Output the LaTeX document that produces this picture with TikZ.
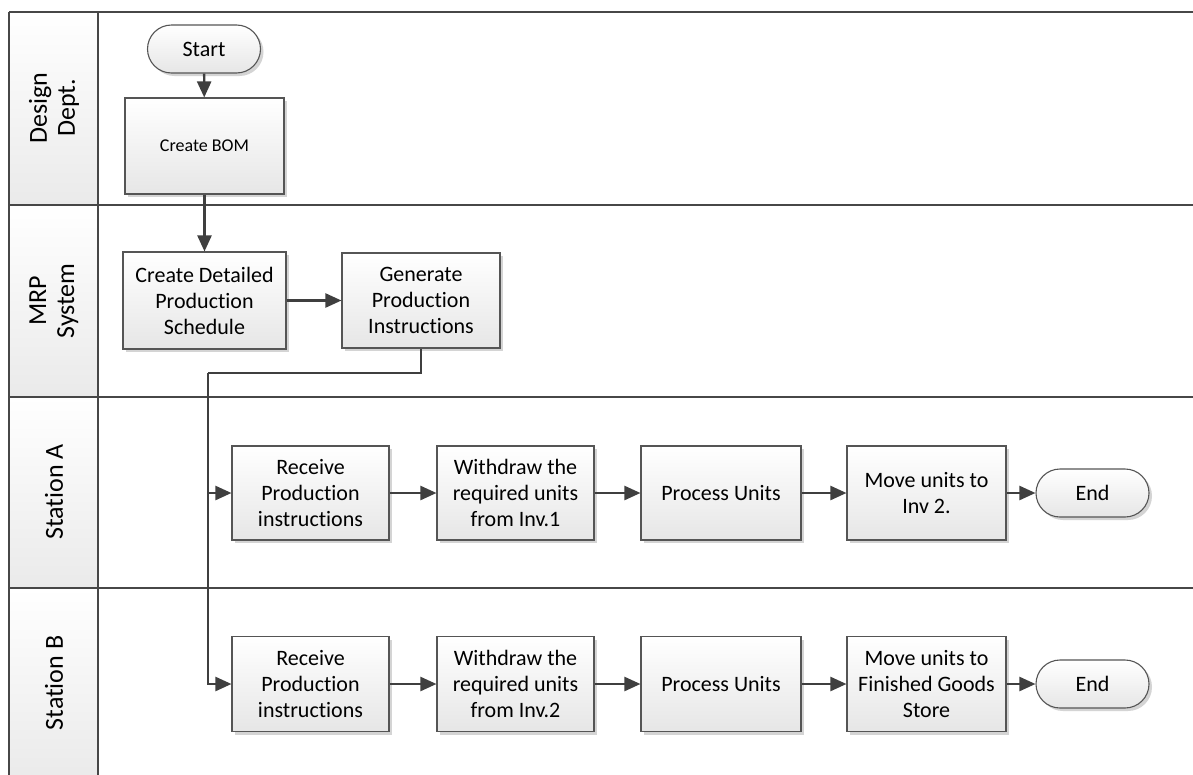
\documentclass[tikz,border=0pt]{standalone}
\usepackage{fontspec}
\setmainfont{Carlito}[Ligatures={NoCommon}]
\usetikzlibrary{arrows.meta,shadows,shapes.misc}

\definecolor{laneline}{HTML}{474747}
\definecolor{boxline}{HTML}{555555}
\definecolor{flow}{HTML}{3F3F3F}
\definecolor{shadowgray}{HTML}{D4D4D4}
\definecolor{fillbot}{HTML}{E6E6E6}
\definecolor{headbot}{HTML}{EAEAEA}

\tikzset{
  shapebase/.style={draw=boxline, line width=1.1pt, top color=white, bottom color=fillbot,
    align=center, text=black, inner sep=2pt,
    drop shadow={shadow xshift=3pt, shadow yshift=-3pt, fill=shadowgray, opacity=1}},
  procbox/.style={shapebase, rectangle, minimum width=157pt, minimum height=94pt,
    font=\fontsize{22}{26}\selectfont},
  termbox/.style={shapebase, rounded rectangle, minimum width=117pt, minimum height=48pt,
    font=\fontsize{22}{26}\selectfont},
  lanelabel/.style={rotate=90, align=center, font=\fontsize{26}{28}\selectfont, text=black},
  poolline/.style={draw=laneline, line width=2.2pt},
  flowarrow/.style={draw=flow, line width=2.3pt, -{Triangle[length=16pt,width=14pt]}},
  flowline/.style={draw=flow, line width=2.3pt},
}

\begin{document}
\begin{tikzpicture}[x=1pt, y=-1pt]
\useasboundingbox (0,0) rectangle (1193,774);
\clip (0,0) rectangle (1193,774);
\fill[white] (0,0) rectangle (1193,774);

% lane header cells
\shade[top color=white, bottom color=headbot] (9,12) rectangle (98,205);
\shade[top color=white, bottom color=headbot] (9,205) rectangle (98,397);
\shade[top color=white, bottom color=headbot] (9,397) rectangle (98,588);
\shade[top color=white, bottom color=headbot] (9,588) rectangle (98,780);

% pool frame and lane dividers
\draw[poolline] (9,12) -- (1200,12);
\draw[poolline] (9,12) -- (9,780);
\draw[poolline] (98,12) -- (98,780);
\draw[poolline] (9,205) -- (1200,205);
\draw[poolline] (9,397) -- (1200,397);
\draw[poolline] (9,588) -- (1200,588);

% lane titles
\node[lanelabel] (labDesign) at (54,108) {Design\\Dept.};
\node[lanelabel] (labMRP) at (54,301) {MRP\\System};
\node[lanelabel] (labA) at (54,492) {Station A};
\node[lanelabel] (labB) at (54,683) {Station B};

% Design Dept.
\node[termbox] (start) at (204,49) {Start};
\node[procbox, minimum width=159pt, minimum height=96pt, font=\fontsize{18}{22}\selectfont] (bom) at (204.5,146) {Create BOM};

% MRP System
\node[procbox, minimum width=163pt, minimum height=97pt] (detail) at (204.5,300.5) {Create Detailed\\Production\\Schedule};
\node[procbox, minimum width=158pt, minimum height=95pt] (gen) at (421,300.5) {Generate\\Production\\Instructions};

% Station A
\node[procbox] (recvA) at (310.5,493) {Receive\\Production\\instructions};
\node[procbox] (wdA) at (515.5,493) {Withdraw the\\required units\\from Inv.1};
\node[procbox, minimum width=160pt] (procA) at (721,493) {Process Units};
\node[procbox, minimum width=159pt] (moveA) at (926.5,493) {Move units to\\Inv 2.};
\node[termbox] (endA) at (1092.5,493) {End};

% Station B
\node[procbox, minimum height=95pt] (recvB) at (310.5,684) {Receive\\Production\\instructions};
\node[procbox, minimum height=95pt] (wdB) at (515.5,684) {Withdraw the\\required units\\from Inv.2};
\node[procbox, minimum width=160pt, minimum height=95pt] (procB) at (721,684) {Process Units};
\node[procbox, minimum width=159pt, minimum height=95pt] (moveB) at (926.5,684) {Move units to\\Finished Goods\\Store};
\node[termbox] (endB) at (1092.5,684) {End};

% flow connectors
\draw[flowarrow] (start) -- (bom);
\draw[flowarrow] (bom) -- (detail);
\draw[flowarrow] (detail) -- (gen);

\coordinate (drop) at (421,373);
\coordinate (trunk) at (208,373);
\draw[flowline] (gen.south) -- (drop) -- (trunk);
\draw[flowarrow] (trunk) |- (recvA.west);
\draw[flowarrow] (trunk) |- (recvB.west);

\draw[flowarrow] (recvA) -- (wdA);
\draw[flowarrow] (wdA) -- (procA);
\draw[flowarrow] (procA) -- (moveA);
\draw[flowarrow] (moveA) -- (endA);

\draw[flowarrow] (recvB) -- (wdB);
\draw[flowarrow] (wdB) -- (procB);
\draw[flowarrow] (procB) -- (moveB);
\draw[flowarrow] (moveB) -- (endB);
\end{tikzpicture}
\end{document}
